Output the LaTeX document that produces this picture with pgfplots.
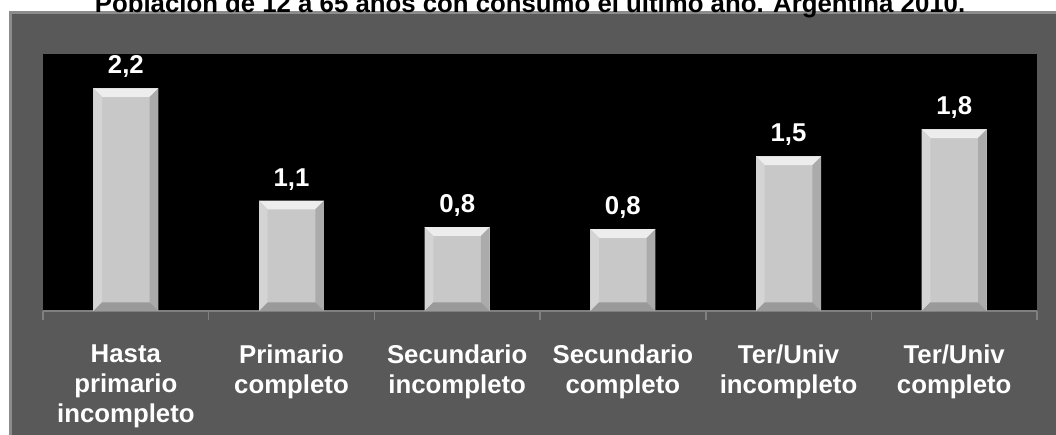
\documentclass[border=0pt]{standalone}
\usepackage{pgfplots}
\pgfplotsset{compat=1.18}
\usepackage{fontspec}
\setmainfont{Liberation Sans}

\definecolor{framegray}{HTML}{595959}
\definecolor{frameedge}{HTML}{8C8C8C}
\definecolor{axisgray}{HTML}{808080}
\definecolor{barface}{HTML}{C8C8C8}
\definecolor{bartop}{HTML}{EDEDED}
\definecolor{barleft}{HTML}{D4D4D4}
\definecolor{barright}{HTML}{ABABAB}
\definecolor{barbottom}{HTML}{9A9A9A}

\newcommand{\lblfont}{\fontsize{11}{12.8}\selectfont\bfseries}

% bevel of one bar, basic-layer pgf inside the bar's path picture
\newlength{\bvl}\setlength{\bvl}{0.13cm}
\makeatletter
\newcommand{\bevelpart}[5]{%
	\pgfsetfillcolor{#1}\pgfpathmoveto{#2}\pgfpathlineto{#3}%
	\pgfpathlineto{#4}\pgfpathlineto{#5}\pgfpathclose\pgfusepath{fill}}
\newcommand{\bevel}{%
	\pgfpointanchor{path picture bounding box}{south west}%
	\edef\bxa{\the\pgf@x}\edef\bya{\the\pgf@y}%
	\pgfpointanchor{path picture bounding box}{north east}%
	\edef\bxb{\the\pgf@x}\edef\byb{\the\pgf@y}%
	\bevelpart{bartop}{\pgfpoint{\bxa}{\byb}}{\pgfpoint{\bxb}{\byb}}%
		{\pgfpoint{\bxb-\bvl}{\byb-\bvl}}{\pgfpoint{\bxa+\bvl}{\byb-\bvl}}%
	\bevelpart{barleft}{\pgfpoint{\bxa}{\byb}}{\pgfpoint{\bxa+\bvl}{\byb-\bvl}}%
		{\pgfpoint{\bxa+\bvl}{\bya+\bvl}}{\pgfpoint{\bxa}{\bya}}%
	\bevelpart{barright}{\pgfpoint{\bxb}{\byb}}{\pgfpoint{\bxb-\bvl}{\byb-\bvl}}%
		{\pgfpoint{\bxb-\bvl}{\bya+\bvl}}{\pgfpoint{\bxb}{\bya}}%
	\bevelpart{barbottom}{\pgfpoint{\bxa}{\bya}}{\pgfpoint{\bxa+\bvl}{\bya+\bvl}}%
		{\pgfpoint{\bxb-\bvl}{\bya+\bvl}}{\pgfpoint{\bxb}{\bya}}}
\makeatother

\begin{document}
\begin{tikzpicture}[x=0.015cm,y=0.015cm]
% picture is 1056 x 435 px, 1px = 0.015cm
\path[use as bounding box] (0,0) rectangle (1056,435);
\clip (0,0) rectangle (1056,435);

% gray frame
\fill[frameedge] (9,0) rectangle (1056,424);
\fill[framegray] (12,0) rectangle (1056,421);

\begin{axis}[
	at={(0.645cm,1.86cm)}, anchor=south west,
	scale only axis,
	width=14.91cm, height=3.855cm,
	ybar, bar width=0.392, bar shift=0pt,
	xmin=-0.5, xmax=5.5,
	ymin=0, ymax=2.562,
	axis background/.style={fill=black},
	axis x line*=bottom, axis y line=none,
	axis line style={draw=axisgray, line width=0.7pt},
	xtick={0,1,2,3,4,5},
	xticklabels={{Hasta\\primario\\incompleto},{Primario\\completo},{Secundario\\incompleto},{Secundario\\completo},{Ter/Univ\\incompleto},{Ter/Univ\\completo}},
	major tick length=0pt,
	minor xtick={-0.5,0.5,1.5,2.5,3.5,4.5,5.5},
	minor tick length=3.8pt,
	tick align=outside,
	minor tick style={draw=axisgray, line width=0.7pt},
	ytick=\empty,
	xticklabel style={align=center, text=white, font=\lblfont, anchor=north, yshift=-11pt},
	bevelbar/.style={fill=barface, draw=none, path picture={\bevel}},
	clip=false,
]
% one plot per bar, so that each bar gets its own bevel
\addplot[bevelbar] coordinates {(0,2.22)};
\addplot[bevelbar] coordinates {(1,1.10)};
\addplot[bevelbar] coordinates {(2,0.835)};
\addplot[bevelbar] coordinates {(3,0.815)};
\addplot[bevelbar] coordinates {(4,1.54)};
\addplot[bevelbar] coordinates {(5,1.81)};
% value labels
\addplot[draw=none, fill=none,
	nodes near coords,
	every node near coord/.append style={text=white, font=\lblfont, yshift=1pt,
		/pgf/number format/.cd, fixed, fixed zerofill, precision=1, use comma, assume math mode=true}]
	coordinates {
(0,2.22)
(1,1.10)
(2,0.835)
(3,0.815)
(4,1.54)
(5,1.81)
};
\end{axis}

% title (cut off at the top as in the reference)
\node[anchor=base, font=\fontsize{11}{13}\selectfont\bfseries, inner sep=0pt] at (530,422)
	{Población de 12 a 65 años con consumo el último año. Argentina 2010.};
\end{tikzpicture}
\end{document}
